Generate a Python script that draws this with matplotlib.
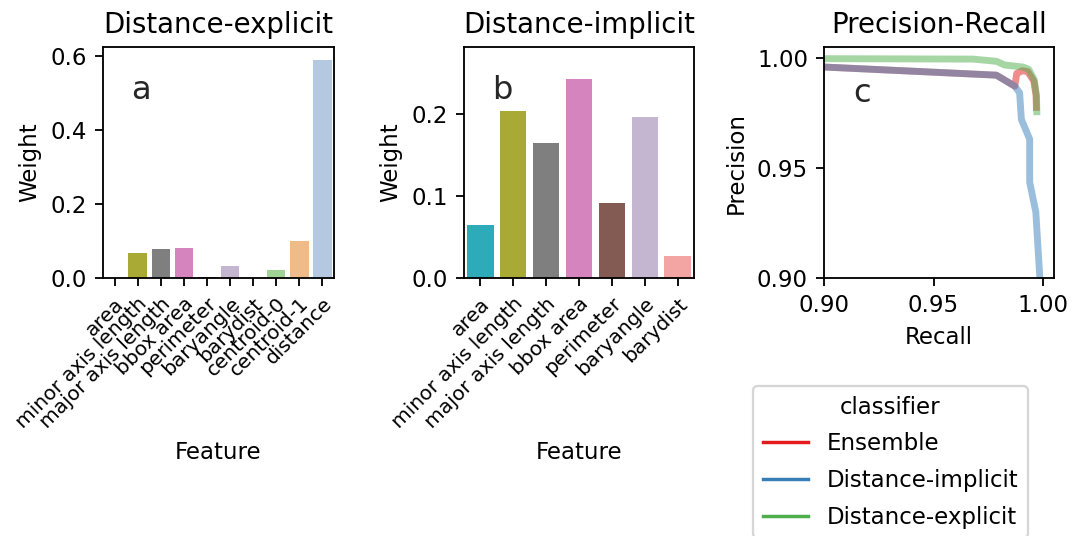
import matplotlib
matplotlib.use("Agg")
import matplotlib.pyplot as plt
from matplotlib.lines import Line2D
import numpy as np
import seaborn as sns

DPI = 165

# feature weights, explicit model (includes centroid + distance features)
features_explicit = ["area", "minor axis length", "major axis length", "bbox area",
                     "perimeter", "baryangle", "barydist", "centroid-0",
                     "centroid-1", "distance"]
weights_explicit = [0.0, 0.067, 0.078, 0.081, 0.004, 0.033, 0.0, 0.022, 0.100, 0.588]

# feature weights, implicit model
features_implicit = ["area", "minor axis length", "major axis length", "bbox area",
                     "perimeter", "baryangle", "barydist"]
weights_implicit = [0.065, 0.204, 0.165, 0.243, 0.091, 0.196, 0.027]

feature_colours = {
    "area": "#17becf",
    "minor axis length": "#bcbd22",
    "major axis length": "#7f7f7f",
    "bbox area": "#e377c2",
    "perimeter": "#8c564b",
    "baryangle": "#c5b0d5",
    "barydist": "#ff9896",
    "centroid-0": "#98df8a",
    "centroid-1": "#ffbb78",
    "distance": "#aec7e8",
}

# precision-recall curves
recall_ens = [0.900, 0.9787, 0.9871, 0.9880, 0.9905, 0.9930, 0.9958, 0.9968, 0.9970]
precision_ens = [0.9959, 0.9922, 0.9872, 0.9930, 0.9942, 0.9938, 0.9895, 0.9830, 0.9760]

recall_imp = [0.900, 0.9787, 0.9871, 0.9893, 0.9901, 0.9939, 0.9939, 0.9967, 0.9985, 0.9988]
precision_imp = [0.9959, 0.9922, 0.9872, 0.9842, 0.9721, 0.9631, 0.9435, 0.9300, 0.9006, 0.8900]

recall_exp = [0.900, 0.968, 0.9787, 0.9825, 0.9909, 0.9935, 0.9960, 0.9970, 0.9972]
precision_exp = [0.9997, 0.9995, 0.9985, 0.9968, 0.9959, 0.9948, 0.9900, 0.9830, 0.9740]

classifiers = ["Ensemble", "Distance-implicit", "Distance-explicit"]
clf_colours = ["#e41a1c", "#377eb8", "#4daf4a"]

plt.rcParams.update({
    "font.family": "DejaVu Sans",
    "font.size": 10,
})

W, H = 1086, 536
fig = plt.figure(figsize=(W / DPI, H / DPI), dpi=DPI)


def box(left, right, top, bottom):
    return [left / W, 1 - bottom / H, (right - left) / W, (bottom - top) / H]


ax_a = fig.add_axes(box(103, 334, 47, 278))
ax_b = fig.add_axes(box(464, 694, 47, 278))
ax_c = fig.add_axes(box(824, 1054, 47, 278))


def weight_bars(ax, feats, vals, title, letter, ymax):
    x = np.arange(len(feats))
    cols = [sns.desaturate(feature_colours[f], 0.75) for f in feats]
    ax.bar(x, vals, width=0.8, color=cols)
    ax.set_xlim(-0.5, len(feats) - 0.5)
    ax.set_ylim(0, ymax)
    ax.set_xticks(x)
    ax.set_xticklabels(feats, rotation=45, ha="right", rotation_mode="anchor",
                       fontsize=8.8)
    ax.set_xlabel("Feature")
    ax.set_ylabel("Weight")
    ax.set_title(title, fontsize=12)
    ax.text(0.165, 0.81, letter, transform=ax.transAxes, ha="center",
            va="center", fontsize=14, color="#262626")


weight_bars(ax_a, features_explicit, weights_explicit, "Distance-explicit", "a", 0.623)
ax_a.set_yticks([0.0, 0.2, 0.4, 0.6])
weight_bars(ax_b, features_implicit, weights_implicit, "Distance-implicit", "b", 0.282)
ax_b.set_yticks([0.0, 0.1, 0.2])

curves = [(recall_ens, precision_ens), (recall_imp, precision_imp),
          (recall_exp, precision_exp)]
for (r, p), c in zip(curves, clf_colours):
    ax_c.plot(r, p, color=c, lw=3, alpha=0.5, solid_capstyle="butt")
ax_c.set_xlim(0.9, 1.005)
ax_c.set_ylim(0.9, 1.005)
ax_c.set_xticks([0.90, 0.95, 1.00])
ax_c.set_yticks([0.90, 0.95, 1.00])
ax_c.set_xlabel("Recall")
ax_c.set_ylabel("Precision")
ax_c.set_title("Precision-Recall", fontsize=12)
ax_c.text(0.165, 0.80, "c", transform=ax_c.transAxes, ha="center",
          va="center", fontsize=14, color="#262626")

handles = [Line2D([], [], color=c, lw=1.5) for c in clf_colours]
fig.legend(handles, classifiers, title="classifier", loc="upper left",
           bbox_to_anchor=(742 / W, 1 - 375 / H), fontsize=10,
           title_fontsize=10, labelspacing=0.6)

fig.savefig("out.png", dpi=DPI)
